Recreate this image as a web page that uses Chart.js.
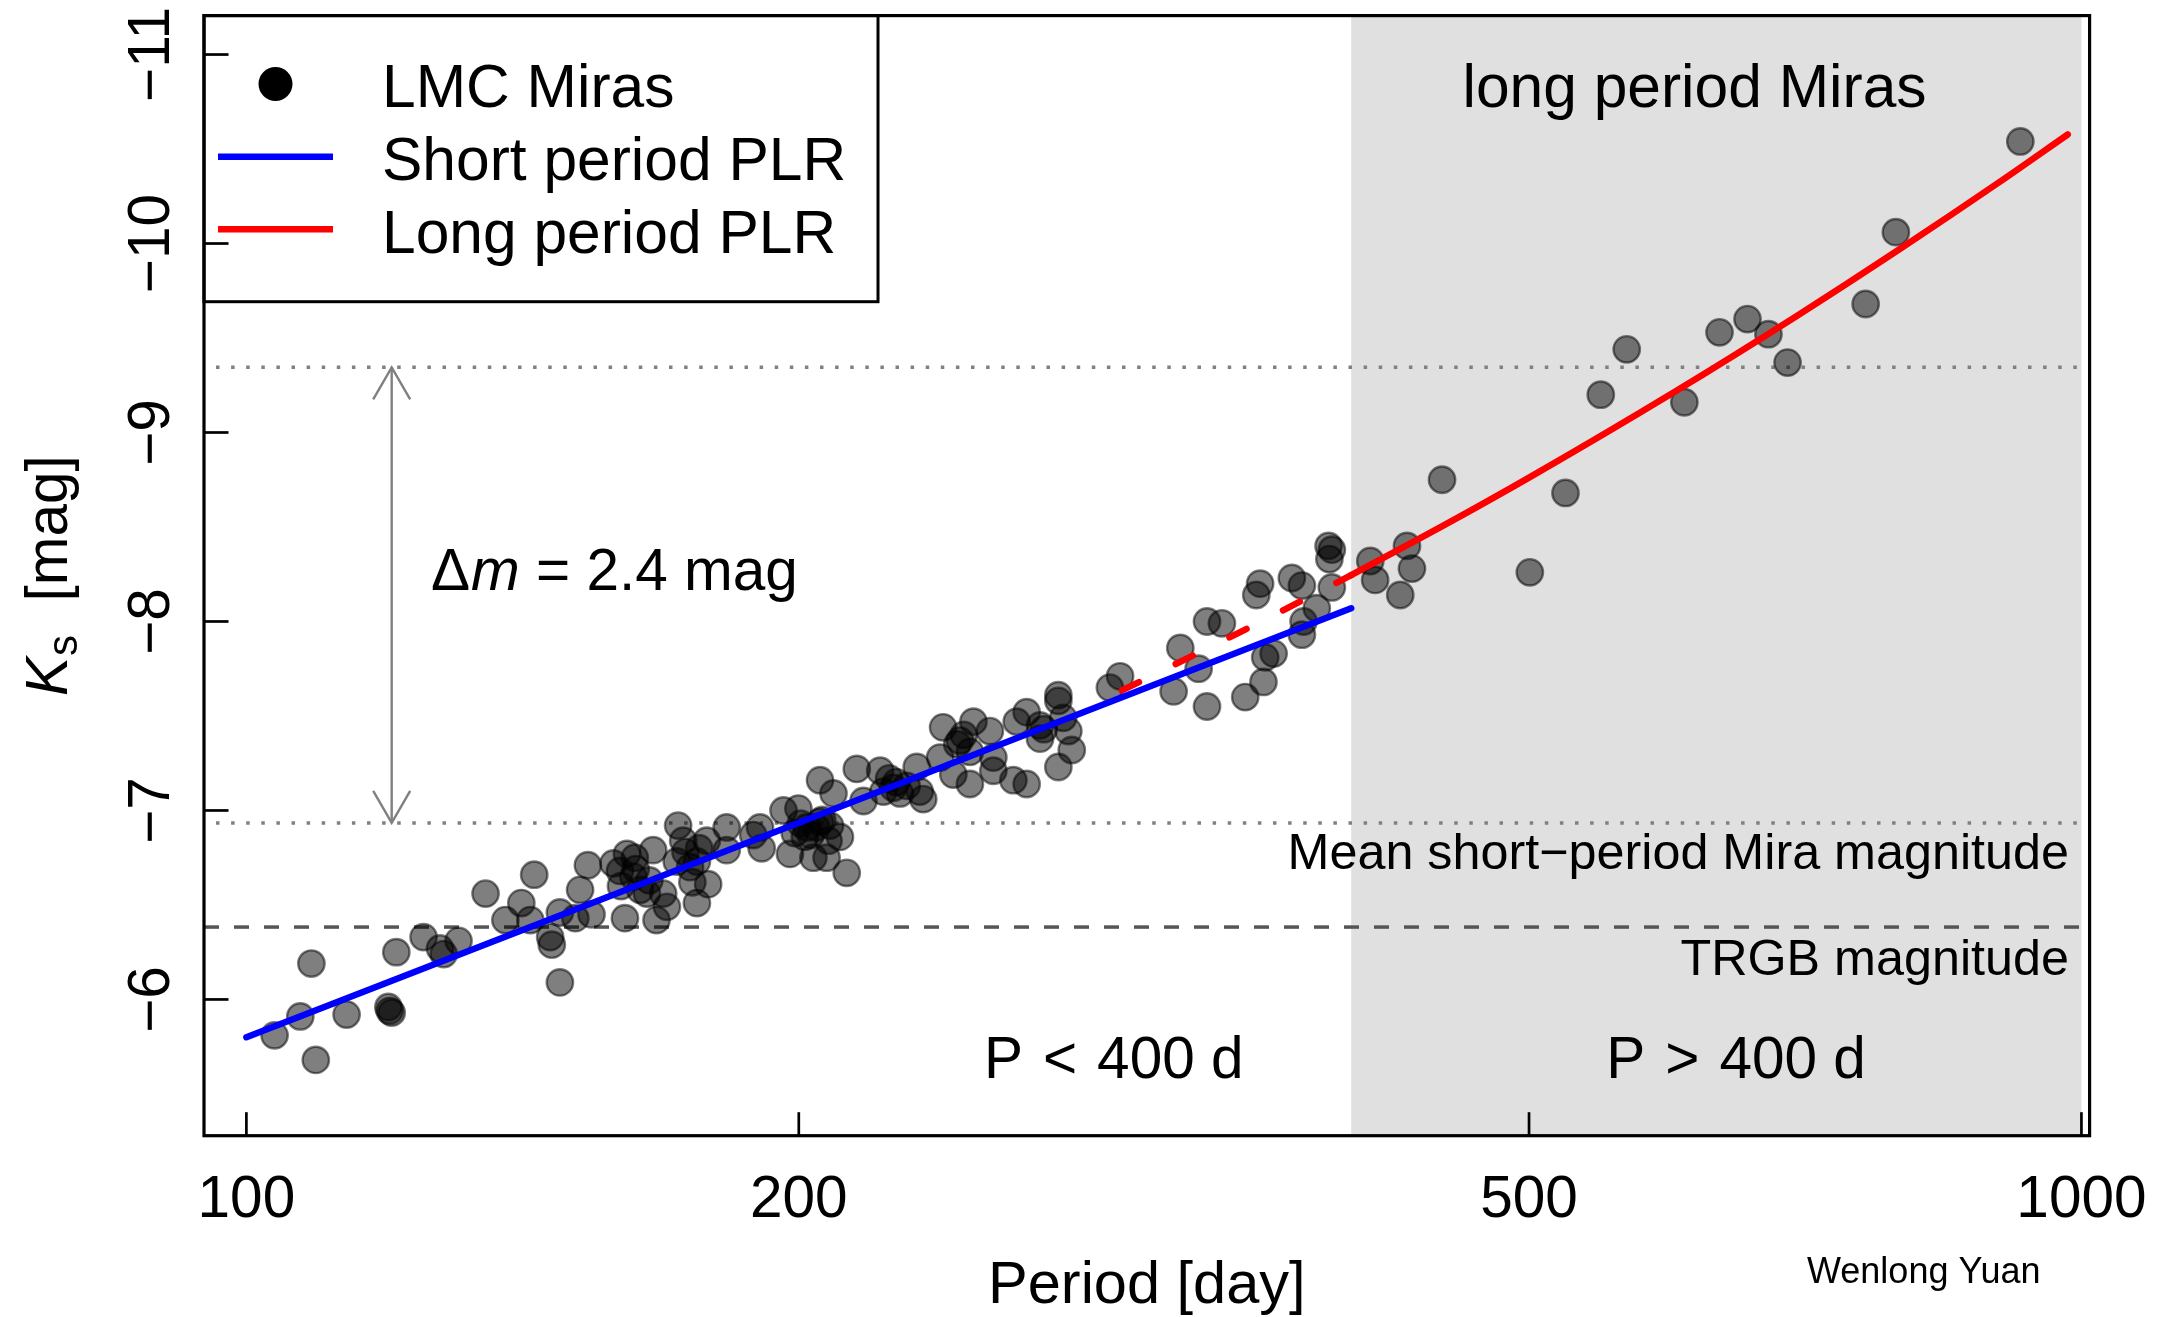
<!DOCTYPE html>
<html>
<head>
<meta charset="utf-8">
<script src="https://cdn.jsdelivr.net/npm/chart.js@4.4.1/dist/chart.umd.min.js"></script>
<style>
html,body{margin:0;padding:0;background:#fff;}
#wrap{position:relative;width:2162px;height:1317px;}
canvas{display:block;}
</style>
</head>
<body>
<div id="wrap"><canvas id="c" width="2162" height="1317"></canvas></div>
<script>
// ---------------- data ----------------
const periods = [
  103.6,107.0,108.5,109.1,113.4,119.5,119.7,120.0,120.7,124.9,127.5,128.1,130.5,135.0,138.4,141.2,142.8,143.5,
  146.4,146.7,148.2,148.2,151.1,152.0,153.5,154.2,158.5,159.8,160.0,160.8,161.2,162.5,162.8,163.0,163.9,165.3,
  165.8,166.6,167.3,168.7,169.5,171.6,171.9,173.0,173.5,174.5,175.0,176.0,176.0,176.5,178.2,178.5,182.7,182.7,188.9,
  190.5,190.9,196.2,197.8,199.0,199.9,200.5,201.5,202.0,203.0,203.7,204.4,205.4,205.4,206.0,207.1,207.6,208.0,
  208.9,210.6,212.4,215.1,216.9,221.5,222.4,224.0,225.2,226.0,227.1,229.0,231.9,232.8,233.8,238.8,239.7,242.8,
  244.0,244.8,246.0,247.9,247.9,249.0,254.2,255.3,255.3,261.8,262.9,266.2,266.2,270.7,270.7,272.0,277.0,277.0,
  277.0,278.7,280.5,281.7,295.5,299.3,320.1,322.8,330.3,333.8,333.8,340.1,350.2,355.1,356.8,358.3,359.1,362.9,
  371.3,376.0,376.0,376.8,383.1,388.8,389.2,390.4,390.4,
  409.7,412.2,425.4,429.0,431.7,448.3,500.5,523.4,547.1,565.2,607.6,635.0,657.7,675.2,691.6,762.8,792.3,926.2
];
const ksMag = [
  -5.81,-5.91,-6.19,-5.68,-5.92,-5.96,-5.94,-5.93,-6.25,-6.33,-6.27,-6.24,-6.31,-6.56,-6.42,-6.51,-6.42,-6.66,
  -6.33,-6.29,-6.09,-6.46,-6.43,-6.58,-6.71,-6.45,-6.72,-6.68,-6.60,-6.43,-6.77,-6.65,-6.75,-6.69,-6.58,-6.56,
  -6.63,-6.79,-6.42,-6.56,-6.49,-6.73,-6.92,-6.84,-6.78,-6.70,-6.62,-6.73,-6.51,-6.80,-6.84,-6.61,-6.91,-6.79,-6.87,
  -6.91,-6.80,-7.00,-6.77,-6.88,-7.01,-6.93,-6.86,-6.91,-6.87,-6.75,-6.91,-7.16,-6.94,-6.95,-6.75,-6.84,-6.92,
  -7.09,-6.86,-6.67,-7.22,-7.05,-7.21,-7.10,-7.17,-7.12,-7.15,-7.09,-7.13,-7.23,-7.10,-7.06,-7.28,-7.44,-7.19,
  -7.35,-7.37,-7.40,-7.31,-7.14,-7.47,-7.42,-7.28,-7.21,-7.16,-7.47,-7.14,-7.52,-7.45,-7.38,-7.43,-7.61,-7.58,
  -7.23,-7.49,-7.42,-7.32,-7.65,-7.71,-7.63,-7.86,-7.75,-7.55,-8.00,-7.99,-7.60,-8.14,-8.20,-7.68,-7.81,-7.83,
  -8.23,-8.19,-7.93,-8.00,-8.07,-8.40,-8.33,-8.38,-8.18,
  -8.32,-8.22,-8.14,-8.40,-8.28,-8.75,-8.26,-8.68,-9.20,-9.44,-9.16,-9.53,-9.60,-9.52,-9.37,-9.68,-10.06,-10.54
];
// Short period PLR (read at its two ends)
const shortPlrPeriods = [100, 400];
const shortPlrMag = [-5.80, -8.07];
// Long period PLR, extrapolated (dashed) part
const longPlrDashPeriods = [300, 350, 400];
const longPlrDashMag = [-7.635, -7.956, -8.245];
// Long period PLR, solid part
const longPlrPeriods = [400, 450, 500, 600, 700, 800, 900, 983];
const longPlrMag = [-8.245, -8.512, -8.761, -9.214, -9.618, -9.984, -10.318, -10.577];
// reference levels
const brightLimitMag = -9.345;
const meanShortMag = -6.934;
const trgbMag = -6.383;
const arrowPeriod = 120;
const longPeriodRange = [400, 1000];
// axes
const xTicks = [100, 200, 500, 1000];
const xTickLabels = ['100', '200', '500', '1000'];
const yTicks = [-11, -10, -9, -8, -7, -6];
const yTickLabels = ['\u221211', '\u221210', '\u22129', '\u22128', '\u22127', '\u22126'];

// ---------------- drawing ----------------
const FF = '"Liberation Sans", Arial, Helvetica, sans-serif';
const BIG = 58.5;
const LEG = 60.5;

function zip(xs, ys) { return xs.map((v, i) => ({x: v, y: ys[i]})); }

function line(ctx, x1, y1, x2, y2) { ctx.beginPath(); ctx.moveTo(x1, y1); ctx.lineTo(x2, y2); ctx.stroke(); }

function text(ctx, s, px, py, size, align, style) {
  ctx.font = (style || '') + ' ' + size + 'px ' + FF;
  ctx.fillStyle = '#000';
  ctx.textAlign = align || 'left';
  ctx.textBaseline = 'alphabetic';
  ctx.fillText(s, px, py);
}

const backPlugin = {
  id: 'back',
  beforeDatasetsDraw(chart) {
    const {ctx, chartArea: a, scales: {x, y}} = chart;
    ctx.save();
    // long period shaded region
    const gx1 = x.getPixelForValue(longPeriodRange[0]);
    const gx2 = x.getPixelForValue(longPeriodRange[1]);
    ctx.fillStyle = '#e0e0e0';
    ctx.fillRect(gx1, a.top, gx2 - gx1, a.bottom - a.top);
    // dotted levels
    ctx.strokeStyle = '#808080';
    ctx.lineWidth = 3.5;
    ctx.lineCap = 'butt';
    ctx.setLineDash([3.5, 11.6]);
    [brightLimitMag, meanShortMag].forEach(m => {
      const py = y.getPixelForValue(m);
      line(ctx, a.left + 12, py, a.right, py);
    });
    // dashed TRGB
    ctx.strokeStyle = '#555555';
    ctx.setLineDash([15, 15]);
    const ty = y.getPixelForValue(trgbMag);
    line(ctx, a.left, ty, a.right, ty);
    ctx.restore();
  }
};

const frontPlugin = {
  id: 'front',
  afterDatasetsDraw(chart) {
    const {ctx, chartArea: a, scales: {x, y}} = chart;
    ctx.save();
    ctx.setLineDash([]);

    // double arrow
    const ax = x.getPixelForValue(arrowPeriod);
    const ay1 = y.getPixelForValue(brightLimitMag);
    const ay2 = y.getPixelForValue(meanShortMag);
    ctx.strokeStyle = '#808080';
    ctx.lineWidth = 2.4;
    ctx.lineCap = 'butt';
    line(ctx, ax, ay1, ax, ay2);
    const hl = 37, ang = Math.PI / 6;
    const dx = hl * Math.sin(ang), dy = hl * Math.cos(ang);
    ctx.beginPath(); ctx.moveTo(ax - dx, ay1 + dy); ctx.lineTo(ax, ay1); ctx.lineTo(ax + dx, ay1 + dy); ctx.stroke();
    ctx.beginPath(); ctx.moveTo(ax - dx, ay2 - dy); ctx.lineTo(ax, ay2); ctx.lineTo(ax + dx, ay2 - dy); ctx.stroke();

    // delta m text
    let tx = 431;
    ctx.font = BIG + 'px ' + FF;
    text(ctx, '\u0394', tx, 590, BIG, 'left');
    tx += ctx.measureText('\u0394').width + 1;
    text(ctx, 'm', tx, 590, BIG, 'left', 'italic');
    ctx.font = 'italic ' + BIG + 'px ' + FF;
    tx += ctx.measureText('m').width;
    text(ctx, ' = 2.4 mag', tx, 590, BIG, 'left');

    // region labels
    text(ctx, 'long period Miras', 1694.5, 107, LEG, 'center');
    text(ctx, 'Mean short\u2212period Mira magnitude', 2069, 869, 50.3, 'right');
    text(ctx, 'TRGB magnitude', 2069, 975, 50.3, 'right');
    // "P < 400 d" with relation spacing
    [['P <', 1113.7], ['P >', 1736]].forEach(([s, cx]) => {
      ctx.font = BIG + 'px ' + FF;
      const w1 = ctx.measureText(s[0]).width, w2 = ctx.measureText(s[2]).width, w3 = ctx.measureText('400 d').width;
      const gap = 20;
      const tot = w1 + gap + w2 + gap + w3;
      let px = cx - tot / 2;
      text(ctx, s[0], px, 1078.3, BIG, 'left'); px += w1 + gap;
      text(ctx, s[2], px, 1078.3, BIG, 'left'); px += w2 + gap;
      text(ctx, '400 d', px, 1078.3, BIG, 'left');
    });

    // legend
    const lx1 = a.left, ly1 = a.top, lx2 = 878, ly2 = 301.7;
    ctx.fillStyle = '#ffffff';
    ctx.fillRect(lx1, ly1, lx2 - lx1, ly2 - ly1);
    ctx.strokeStyle = '#000';
    ctx.lineWidth = 3;
    ctx.strokeRect(lx1, ly1, lx2 - lx1, ly2 - ly1);
    ctx.fillStyle = '#000';
    ctx.beginPath(); ctx.arc(275.5, 84, 17, 0, Math.PI * 2); ctx.fill();
    ctx.lineWidth = 6.5;
    ctx.lineCap = 'butt';
    ctx.strokeStyle = '#0000ff'; line(ctx, 218, 156.7, 333, 156.7);
    ctx.strokeStyle = '#ff0000'; line(ctx, 218, 229.3, 333, 229.3);
    text(ctx, 'LMC Miras', 382, 106.7, LEG, 'left');
    text(ctx, 'Short period PLR', 382, 180, LEG, 'left');
    text(ctx, 'Long period PLR', 382, 253.3, LEG, 'left');

    // frame
    ctx.strokeStyle = '#000';
    ctx.lineWidth = 3.2;
    ctx.strokeRect(a.left, a.top, a.right - a.left, a.bottom - a.top);

    // ticks (inward)
    ctx.lineWidth = 2.7;
    xTicks.forEach((v, i) => {
      const px = x.getPixelForValue(v);
      line(ctx, px, a.bottom, px, a.bottom - 23.5);
      text(ctx, xTickLabels[i], px, 1216.7, BIG, 'center');
    });
    yTicks.forEach((v, i) => {
      const py = y.getPixelForValue(v);
      line(ctx, a.left, py, a.left + 24.5, py);
      ctx.save();
      ctx.translate(169, py);
      ctx.rotate(-Math.PI / 2);
      text(ctx, yTickLabels[i], 0, 0, BIG, 'center');
      ctx.restore();
    });

    // axis titles
    text(ctx, 'Period [day]', (a.left + a.right) / 2, 1303, 59.5, 'center');
    ctx.save();
    ctx.translate(66.7, (a.top + a.bottom) / 2);
    ctx.rotate(-Math.PI / 2);
    ctx.font = 'italic ' + BIG + 'px ' + FF;
    const wK = ctx.measureText('K').width;
    ctx.font = '42px ' + FF;
    const wS = ctx.measureText('s').width;
    ctx.font = BIG + 'px ' + FF;
    const wM = ctx.measureText('  [mag]').width;
    const tot = wK + wS + 2 + wM;
    let sx = -tot / 2;
    text(ctx, 'K', sx, 0, BIG, 'left', 'italic');
    sx += wK + 1;
    text(ctx, 's', sx, 10.5, 42, 'left');
    sx += wS + 1;
    text(ctx, '  [mag]', sx, 0, BIG, 'left');
    ctx.restore();

    // credit
    text(ctx, 'Wenlong Yuan', 1807, 1283.4, 36, 'left');
    ctx.restore();
  }
};

new Chart(document.getElementById('c').getContext('2d'), {
  type: 'scatter',
  data: {
    datasets: [
      {
        label: 'Short period PLR',
        data: zip(shortPlrPeriods, shortPlrMag),
        showLine: true, borderColor: '#0000ff', borderWidth: 6.5,
        borderCapStyle: 'round', pointRadius: 0, order: 0
      },
      {
        label: 'Long period PLR (extrapolated)',
        data: zip(longPlrDashPeriods, longPlrDashMag),
        showLine: true, borderColor: '#ff0000', borderWidth: 6.5,
        borderDash: [19, 41], borderCapStyle: 'round',
        cubicInterpolationMode: 'monotone', pointRadius: 0, order: 0
      },
      {
        label: 'Long period PLR',
        data: zip(longPlrPeriods, longPlrMag),
        showLine: true, borderColor: '#ff0000', borderWidth: 6.5,
        borderCapStyle: 'round', cubicInterpolationMode: 'monotone',
        pointRadius: 0, order: 0
      },
      {
        label: 'LMC Miras',
        data: zip(periods, ksMag),
        pointRadius: 13.2, pointHoverRadius: 13.2,
        backgroundColor: 'rgba(0,0,0,0.5)', borderColor: 'rgba(0,0,0,0.5)',
        borderWidth: 2.4, order: 1
      }
    ]
  },
  options: {
    responsive: false,
    animation: false,
    devicePixelRatio: 1,
    events: [],
    layout: {padding: {left: 204, right: 72.4, top: 12.7, bottom: 181.3}},
    plugins: {legend: {display: false}, tooltip: {enabled: false}},
    scales: {
      x: {type: 'logarithmic', min: 94.82, max: 1010.3, display: false},
      y: {type: 'linear', min: -11.206, max: -5.279, reverse: true, display: false}
    }
  },
  plugins: [backPlugin, frontPlugin]
});
</script>
</body>
</html>
